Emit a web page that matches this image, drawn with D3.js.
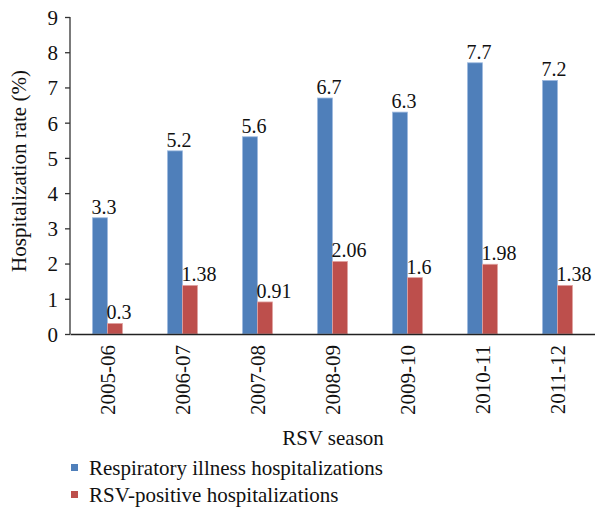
<!DOCTYPE html>
<html>
  <head>
    <script src="https://d3js.org/d3.v7.min.js" charset="utf-8"></script>
    <style>
      body { margin: 0; background: #fff; }
      text { font-family: "Liberation Serif", "DejaVu Serif", serif; fill: #111; }
    </style>
  </head>
  <body>
    <svg id="chart" width="595" height="508"></svg>
    <script>
      var seasons = ["2005-06", "2006-07", "2007-08", "2008-09", "2009-10", "2010-11", "2011-12"];
      var respiratory = [3.3, 5.2, 5.6, 6.7, 6.3, 7.7, 7.2];
      var rsvPositive = [0.3, 1.38, 0.91, 2.06, 1.6, 1.98, 1.38];
      var seriesNames = ["Respiratory illness hospitalizations", "RSV-positive hospitalizations"];
      var colors = ["#4f7fba", "#bd4f4c"];
      var strokes = ["#9fbbe0", "#e0a3a2"];

      var svg = d3.select("#chart");
      var mLeft = 70, mRight = 595, mTop = 17, mBottom = 334;

      var x = d3.scaleBand().domain(seasons).range([mLeft, mRight]);
      var xs = d3.scaleBand().domain([0, 1]).range([0, 30]);
      var y = d3.scaleLinear().domain([0, 9]).range([mBottom, mTop]);

      // y axis
      var yAxis = svg.append("g").attr("transform", "translate(" + mLeft + ",0)")
        .call(d3.axisLeft(y).ticks(9).tickSize(5).tickPadding(7));
      yAxis.selectAll("text").style("font-size", "21px").attr("dy", "0.35em");
      yAxis.selectAll("line, path").attr("stroke", "#333").attr("stroke-width", 1.3);
      yAxis.select(".domain").attr("d", "M0," + mTop + "V" + mBottom);

      var data = seasons.map((s, i) => ({season: s, vals: [respiratory[i], rsvPositive[i]]}));

      var groups = svg.append("g").selectAll("g").data(data).enter().append("g")
        .attr("transform", d => "translate(" + (x(d.season) + x.bandwidth() / 2 - 15) + ",0)");

      groups.selectAll("rect").data(d => d.vals.map((v, k) => ({v: v, k: k}))).enter().append("rect")
        .attr("x", d => xs(d.k)).attr("width", xs.bandwidth())
        .attr("y", d => y(d.v)).attr("height", d => mBottom - y(d.v))
        .attr("fill", d => colors[d.k]).attr("stroke", d => strokes[d.k]).attr("stroke-width", 0.8);

      groups.selectAll("text.val").data(d => d.vals.map((v, k) => ({v: v, k: k}))).enter().append("text")
        .attr("class", "val")
        .attr("x", d => xs(d.k) - 1).attr("y", d => y(d.v) - 4)
        .style("font-size", "20px")
        .text(d => d.v);

      // x axis
      var xAxis = svg.append("g").attr("transform", "translate(0," + mBottom + ")")
        .call(d3.axisBottom(x).tickSize(0).tickPadding(0));
      xAxis.select(".domain").attr("stroke", "#222").attr("stroke-width", 1.3);
      xAxis.selectAll("text")
        .style("font-size", "21px")
        .attr("text-anchor", "end")
        .attr("transform", "translate(0,11) rotate(-90)")
        .attr("x", 0).attr("y", 0).attr("dy", "0.35em");

      svg.append("text").attr("x", 333).attr("y", 445).attr("text-anchor", "middle")
        .style("font-size", "21px").text("RSV season");

      svg.append("text").attr("transform", "translate(26,171) rotate(-90)").attr("text-anchor", "middle")
        .style("font-size", "21px").text("Hospitalization rate (%)");

      // legend
      var legend = svg.append("g").selectAll("g").data(seriesNames).enter().append("g")
        .attr("transform", (d, i) => "translate(71," + (468 + i * 27) + ")");
      legend.append("rect").attr("x", 0).attr("y", -4).attr("width", 7).attr("height", 7)
        .attr("fill", (d, i) => colors[i]);
      legend.append("text").attr("x", 18).attr("y", 0).attr("dy", "0.35em")
        .style("font-size", "21px").text(d => d);
    </script>
  </body>
</html>
